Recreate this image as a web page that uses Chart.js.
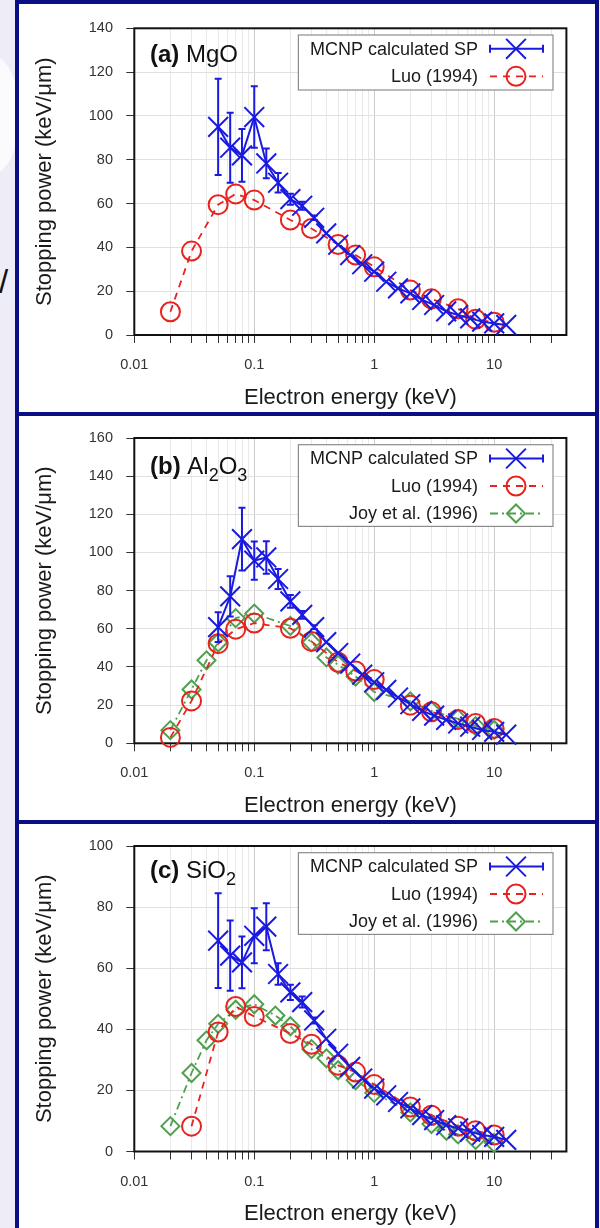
<!DOCTYPE html>
<html>
<head>
<meta charset="utf-8">
<script src="https://cdn.jsdelivr.net/npm/chart.js@4.4.1/dist/chart.umd.min.js"></script>
<style>
  html, body { margin: 0; padding: 0; }
  body { width: 600px; height: 1228px; position: relative; overflow: hidden; background: #eeedf7;
         font-family: "Liberation Sans", Arial, Helvetica, sans-serif; }
  .glow { position: absolute; background: #fbfbfe; border-radius: 50%; }
  .bar { position: absolute; background: #0b0f85; }
  .panel { position: absolute; left: 19px; width: 576px; background: #fff; }
  .panel canvas { display: block; }
  .slash { position: absolute; left: -1px; top: 262px; font-size: 33px; color: #111; line-height: 40px; }
</style>
</head>
<body>
<div class="glow" style="left:-40px;top:55px;width:60px;height:120px"></div>
<div class="slash">/</div>

<div class="panel" style="top:4px;height:408px"><canvas id="cA" width="576" height="408"></canvas></div>
<div class="panel" style="top:416px;height:404px"><canvas id="cB" width="576" height="404"></canvas></div>
<div class="panel" style="top:824px;height:404px"><canvas id="cC" width="576" height="404"></canvas></div>

<div class="bar" style="left:15px;top:0;width:584px;height:4px"></div>
<div class="bar" style="left:15px;top:412px;width:584px;height:4px"></div>
<div class="bar" style="left:15px;top:820px;width:584px;height:4px"></div>
<div class="bar" style="left:15px;top:0;width:4px;height:1228px"></div>
<div class="bar" style="left:595px;top:0;width:4px;height:1228px"></div>

<script>
// electron energies (keV)
const E_MCNP = [0.05, 0.063, 0.079, 0.1, 0.126, 0.158, 0.2, 0.251, 0.316, 0.398, 0.501, 0.631, 0.794,
                1, 1.26, 1.58, 2, 2.51, 3.16, 3.98, 5.01, 6.31, 7.94, 10, 12.6];
const E_LUO = [0.02, 0.03, 0.05, 0.07, 0.1, 0.2, 0.3, 0.5, 0.7, 1, 2, 3, 5, 7, 10];
const E_LUO_SIO2 = [0.03, 0.05, 0.07, 0.1, 0.2, 0.3, 0.5, 0.7, 1, 2, 3, 5, 7, 10];
const E_JOY_AL2O3 = [0.02, 0.03, 0.04, 0.05, 0.07, 0.1, 0.2, 0.3, 0.4, 0.5, 0.7, 1, 2, 3, 5, 7, 10];
const E_JOY_SIO2 = [0.02, 0.03, 0.04, 0.05, 0.07, 0.1, 0.15, 0.2, 0.3, 0.4, 0.5, 0.7, 1, 2, 3, 4, 5, 7, 10];

// (a) MgO, stopping power keV/um
const MGO_MCNP = [95, 85.5, 82, 99.5, 78.3, 69.5, 62, 59, 53.5, 46.4, 41.2, 36.5, 32.3, 28.9, 24.3, 21.3,
                  19, 16, 13.7, 10.8, 9.1, 7.6, 6.1, 5.3, 4.6];
const MGO_ERR = [22, 16, 12, 14, 6.8, 4.5, 2.5, 1.8, 1, 0, 0, 0, 0, 0, 0, 0, 0, 0, 0, 0, 0, 0, 0, 0, 0];
const MGO_LUO = [10.6, 38.3, 59.5, 64.4, 61.6, 52.5, 48.6, 41.3, 36.5, 31.1, 20.5, 16.5, 12, 7.2, 5.8];

// (b) Al2O3
const AL2O3_MCNP = [60.9, 77, 107, 95.7, 97.4, 86.1, 74.4, 67.3, 60.9, 53, 47.3, 41.8, 36, 32, 28, 24,
                    20.5, 17, 14.5, 12.3, 10.4, 8.7, 7, 6, 4.5];
const AL2O3_ERR = [7.8, 10.5, 16.5, 10, 8.5, 5.2, 3.3, 2, 1, 0, 0, 0, 0, 0, 0, 0, 0, 0, 0, 0, 0, 0, 0, 0, 0];
const AL2O3_LUO = [3.1, 22.2, 52.2, 59.8, 63, 60.3, 53.4, 42.5, 37.9, 33.4, 20, 16.5, 12.5, 10.4, 7.8];
const AL2O3_JOY = [6.9, 28.2, 43.5, 52.8, 65.6, 68, 61.5, 53, 45, 41.2, 35, 26.9, 22, 17, 12.8, 9, 7];

// (c) SiO2
const SIO2_MCNP = [69, 64.1, 61.9, 70.6, 73.6, 58.1, 52.1, 48.9, 42.9, 36.9, 32, 27.7, 23.9, 20.6, 18.4,
                   16.2, 14.1, 11.9, 10.3, 8.6, 7.6, 6.5, 5.4, 4.8, 3.8];
const SIO2_ERR = [15.5, 11.5, 8.5, 9, 7.7, 3.5, 2.5, 1.8, 1, 0, 0, 0, 0, 0, 0, 0, 0, 0, 0, 0, 0, 0, 0, 0, 0];
const SIO2_LUO = [8.3, 39.1, 47.5, 44.2, 38.6, 35.1, 28.2, 26, 21.9, 14.6, 11.9, 8.3, 6.8, 5.4];
const SIO2_JOY = [8.3, 25.7, 36.4, 41.8, 46.4, 48.2, 44.5, 41, 33.5, 30.5, 26.6, 23.3, 19.2, 12.8, 9, 6.8,
                  5.6, 3.8, 2.8];

// axis ticks
const X_DECADES = [0.01, 0.1, 1, 10];
const X_TICK_LABELS = ['0.01', '0.1', '1', '10'];
const X_MIN = 0.01, X_MAX = 40;

const BLUE = '#1a1ae0';
const RED = '#e8221e';
const GREEN = '#4f9f4f';
const FONT = '"Liberation Sans", Arial, Helvetica, sans-serif';

const xGrid = [];
X_DECADES.forEach(d => {
    for (let m = 1; m <= 9; m++) {
        const v = Number((m * d).toPrecision(3));
        if (v < X_MAX) xGrid.push(v);
    }
});

const pts = (xs, ys) => xs.map((x, i) => ({ x: x, y: ys[i] }));

// frame, error bars, legend and panel tag
const paperPlot = {
    id: 'paperPlot',
    beforeDatasetsDraw(chart) {
        const { ctx, chartArea: a } = chart;
        ctx.save();
        ctx.strokeStyle = '#111';
        ctx.lineWidth = 2;
        ctx.strokeRect(a.left, a.top, a.right - a.left, a.bottom - a.top);
        ctx.restore();
    },
    afterDatasetsDraw(chart, args, opts) {
        const { ctx, chartArea: a, scales: { x, y } } = chart;
        ctx.save();

        // error bars of the MCNP points
        ctx.strokeStyle = BLUE;
        ctx.lineWidth = 2;
        opts.err.forEach((e, i) => {
            if (!e) return;
            const px = x.getPixelForValue(opts.errE[i]);
            const y1 = y.getPixelForValue(opts.errV[i] + e);
            const y2 = y.getPixelForValue(opts.errV[i] - e);
            ctx.beginPath();
            ctx.moveTo(px, y1); ctx.lineTo(px, y2);
            ctx.moveTo(px - 3.5, y1); ctx.lineTo(px + 3.5, y1);
            ctx.moveTo(px - 3.5, y2); ctx.lineTo(px + 3.5, y2);
            ctx.stroke();
        });

        // legend
        const sets = chart.data.datasets;
        const boxL = a.right - 268, boxR = a.right - 13.4, boxT = a.top + 6.7;
        const boxH = sets.length === 2 ? 55 : 81.7;
        ctx.fillStyle = '#fff';
        ctx.fillRect(boxL, boxT, boxR - boxL, boxH);
        ctx.strokeStyle = '#8c8c8c';
        ctx.lineWidth = 1.2;
        ctx.strokeRect(boxL, boxT, boxR - boxL, boxH);
        ctx.font = '18px ' + FONT;
        ctx.textAlign = 'right';
        ctx.textBaseline = 'middle';
        sets.forEach((ds, i) => {
            const ry = a.top + 20.5 + 27.5 * i;
            ctx.fillStyle = '#1a1a1a';
            ctx.fillText(ds.label, a.right - 88.4, ry + 1);
            const x0 = a.right - 76.4, x1 = a.right - 23.4, xm = a.right - 50.4;
            ctx.strokeStyle = ds.borderColor;
            ctx.lineWidth = ds.borderWidth;
            ctx.setLineDash(ds.borderDash || []);
            ctx.beginPath();
            ctx.moveTo(x0, ry); ctx.lineTo(x1, ry);
            ctx.stroke();
            ctx.setLineDash([]);
            if (i === 0) {
                ctx.lineWidth = 2;
                ctx.beginPath();
                ctx.moveTo(x0, ry - 4); ctx.lineTo(x0, ry + 4);
                ctx.moveTo(x1, ry - 4); ctx.lineTo(x1, ry + 4);
                ctx.stroke();
            }
            ctx.fillStyle = 'rgba(0,0,0,0)';
            ctx.lineWidth = ds.pointBorderWidth;
            Chart.helpers.drawPoint(ctx, {
                pointStyle: ds.pointStyle, radius: ds.pointRadius, rotation: 0,
                borderWidth: ds.pointBorderWidth
            }, xm, ry);
        });

        // panel tag like "(b) Al2O3"
        let tx = a.left + 15.7;
        const base = a.top + opts.tagBase;
        ctx.textAlign = 'left';
        ctx.textBaseline = 'alphabetic';
        ctx.fillStyle = '#111';
        opts.tag.forEach(p => {
            ctx.font = (p.bold ? 'bold ' : '') + (p.sub ? '18px ' : '24px ') + FONT;
            ctx.fillText(p.t, tx, p.sub ? base + 7 : base);
            tx += ctx.measureText(p.t).width;
        });
        ctx.restore();
    }
};

function makePanel(id, p) {
    const datasets = [{
        label: 'MCNP calculated SP',
        data: pts(E_MCNP, p.mcnp),
        borderColor: BLUE, borderWidth: 2,
        pointStyle: 'crossRot', pointRadius: 14, pointBorderWidth: 2,
        pointBorderColor: BLUE, pointBackgroundColor: 'rgba(0,0,0,0)'
    }, {
        label: 'Luo (1994)',
        data: pts(p.luoE, p.luo),
        borderColor: RED, borderWidth: 1.8, borderDash: [7, 6],
        pointStyle: 'circle', pointRadius: 9.5, pointBorderWidth: 2,
        pointBorderColor: RED, pointBackgroundColor: 'rgba(0,0,0,0)'
    }];
    if (p.joy) {
        datasets.push({
            label: 'Joy et al. (1996)',
            data: pts(p.joyE, p.joy),
            borderColor: GREEN, borderWidth: 1.8, borderDash: [8, 4, 2, 4],
            pointStyle: 'rectRot', pointRadius: 9, pointBorderWidth: 2,
            pointBorderColor: GREEN, pointBackgroundColor: 'rgba(0,0,0,0)'
        });
    }
    datasets.forEach(d => { d.showLine = true; d.clip = false; d.tension = 0; });

    return new Chart(document.getElementById(id), {
        type: 'scatter',
        data: { datasets: datasets },
        plugins: [paperPlot],
        options: {
            responsive: false,
            animation: false,
            events: [],
            layout: { padding: { left: 0, right: 28.6, top: p.top, bottom: 0 } },
            plugins: {
                legend: { display: false },
                tooltip: { enabled: false },
                paperPlot: { err: p.err, errE: E_MCNP, errV: p.mcnp, tag: p.tag, tagBase: p.tagBase }
            },
            scales: {
                x: {
                    type: 'logarithmic',
                    min: X_MIN, max: X_MAX,
                    afterBuildTicks: s => { s.ticks = xGrid.map(v => ({ value: v })); },
                    afterFit: s => { s.height = p.xH; },
                    border: { display: false },
                    grid: {
                        color: c => (c.tick && X_DECADES.includes(c.tick.value)) ? '#cbcbcb' : '#e9e9e9',
                        lineWidth: 1, tickLength: 8, tickColor: '#333', tickWidth: 1
                    },
                    ticks: {
                        autoSkip: false, maxRotation: 0, padding: 13.3, color: '#333',
                        font: { family: FONT, size: 14.5 },
                        callback: v => {
                            const k = X_DECADES.indexOf(v);
                            return k >= 0 ? X_TICK_LABELS[k] : '';
                        }
                    },
                    title: {
                        display: true, text: 'Electron energy (keV)', color: '#1a1a1a',
                        font: { family: FONT, size: 22 }, padding: { top: 0, bottom: 1 }
                    }
                },
                y: {
                    min: 0, max: p.yMax,
                    afterFit: s => { s.width = 115.3; },
                    border: { display: false },
                    grid: { color: '#e0e0e0', lineWidth: 1, tickLength: 8, tickColor: '#333', tickWidth: 1 },
                    ticks: {
                        stepSize: 20, padding: 13.3, color: '#333',
                        font: { family: FONT, size: 14.5 }
                    },
                    title: {
                        display: true, text: 'Stopping power (keV/\u03bcm)', color: '#1a1a1a',
                        font: { family: FONT, size: 22 }, padding: { top: 12.8, bottom: 0 }
                    }
                }
            }
        }
    });
}

makePanel('cA', {
    yMax: 140, top: 24.3, xH: 77, tagBase: 34,
    mcnp: MGO_MCNP, err: MGO_ERR, luoE: E_LUO, luo: MGO_LUO,
    tag: [{ t: '(a)', bold: true }, { t: ' MgO' }]
});
makePanel('cB', {
    yMax: 160, top: 20.7, xH: 76.7, tagBase: 35.5,
    mcnp: AL2O3_MCNP, err: AL2O3_ERR, luoE: E_LUO, luo: AL2O3_LUO, joyE: E_JOY_AL2O3, joy: AL2O3_JOY,
    tag: [{ t: '(b)', bold: true }, { t: ' Al' }, { t: '2', sub: true }, { t: 'O' }, { t: '3', sub: true }]
});
makePanel('cC', {
    yMax: 100, top: 21, xH: 76.5, tagBase: 32,
    mcnp: SIO2_MCNP, err: SIO2_ERR, luoE: E_LUO_SIO2, luo: SIO2_LUO, joyE: E_JOY_SIO2, joy: SIO2_JOY,
    tag: [{ t: '(c)', bold: true }, { t: ' SiO' }, { t: '2', sub: true }]
});
</script>
</body>
</html>
